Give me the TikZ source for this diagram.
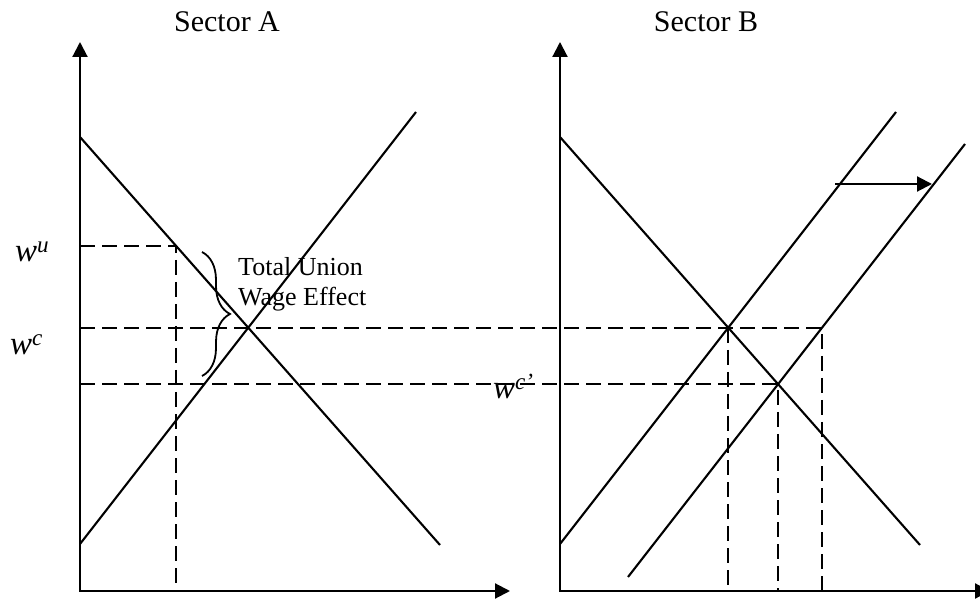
\documentclass[tikz,border=0pt]{standalone}
\usepackage{fontspec}
\setmainfont{Liberation Serif}
\usetikzlibrary{arrows.meta,decorations.pathreplacing}

\begin{document}
\begin{tikzpicture}[x=1pt,y=-1pt,
    axis/.style={line width=2.1pt,line join=miter,{Triangle[length=15pt,width=15pt]}-{Triangle[length=15pt,width=15pt]}},
    curve/.style={line width=2.1pt},
    guide/.style={line width=1.9pt,dash pattern=on 15pt off 7pt},
    title/.style={font=\fontsize{30}{34}\selectfont,anchor=base,inner sep=0pt},
    wlabel/.style={font=\fontsize{33}{36}\selectfont\itshape,anchor=base west,inner sep=0pt}]
  \useasboundingbox (0,0) rectangle (980,601);

  % Axes
  \foreach \ox/\tip in {80/510,560/990}
    \draw[axis] (\ox,42) -- (\ox,591) -- (\tip,591);

  % Key points
  \coordinate (wuA) at (176,246);  % union wage on demand A
  \coordinate (EA)  at (248,328);  % competitive equilibrium A
  \coordinate (EB1) at (728,328);  % equilibrium B before shift
  \coordinate (EB2) at (778,384);  % equilibrium B after shift
  \coordinate (SB2) at (822,328);  % shifted supply at w^c

  % Demand curves
  \draw[curve] (80,137) -- (440,545);
  \draw[curve] (560,137) -- (920,545);

  % Supply curves
  \draw[curve] (80,544) -- (416,112);
  \draw[curve] (560,544) -- (896,112);
  \draw[curve] (628,577) -- (965,144);

  % Supply shift
  \draw[line width=2.1pt,-{Triangle[length=15pt,width=15pt]}] (835,184) -- (932,184);

  % Dashed guides
  \draw[guide] (80,246) -- (wuA) -- (176,591);
  \draw[guide] (80,328) -- (SB2) -- (822,591);
  \draw[guide] (80,384) -- (EB2) -- (778,591);
  \draw[guide] (EB1) -- (728,591);

  % Brace
  \draw[line width=1.8pt,decorate,decoration={brace,amplitude=28pt}] (202,252) -- (202,376);
  \node[anchor=north west,inner sep=0pt,align=left,font=\fontsize{26}{30}\selectfont] (effect) at (238,257) {Total Union\\Wage Effect};

  % Labels
  \node[title] (secA) at (227,32) {Sector A};
  \node[title] (secB) at (706,32) {Sector B};
  \node[wlabel] (wu) at (15,262) {w\textsuperscript{u}};
  \node[wlabel] (wc) at (10,355) {w\textsuperscript{c}};
  \node[wlabel] (wcp) at (493,399) {w\textsuperscript{c'}};
\end{tikzpicture}
\end{document}
